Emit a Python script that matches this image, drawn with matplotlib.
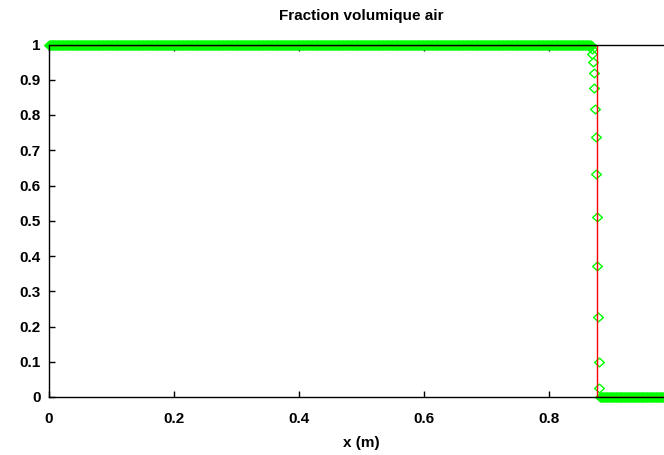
import numpy as np
import matplotlib
matplotlib.use("Agg")
import matplotlib.pyplot as plt
from matplotlib.path import Path

# ---- data ----
# exact solution (step)
exact_x = [0.0, 0.8773, 0.8773, 1.0]
exact_y = [1.0, 1.0, 0.0, 0.0]

# numerical solution: cell-centred mesh with dx = 0.001
dx = 0.001
upper_plateau_end = 0.8645        # last cell at value 1
lower_plateau_start = 0.8815      # first cell at value 0
# transition cells
trans_x = [0.8655, 0.8665, 0.8675, 0.8685, 0.8695, 0.8705, 0.8715, 0.8725,
           0.8735, 0.8745, 0.8755, 0.8765, 0.8775, 0.8785, 0.8795, 0.8805]
trans_y = [0.999, 0.998, 0.995, 0.988, 0.974, 0.950, 0.920, 0.876,
           0.817, 0.737, 0.634, 0.510, 0.371, 0.226, 0.100, 0.025]

x_ticks = [0, 0.2, 0.4, 0.6, 0.8, 1]
x_tick_labels = ["0", "0.2", "0.4", "0.6", "0.8", ""]
y_ticks = [0, 0.1, 0.2, 0.3, 0.4, 0.5, 0.6, 0.7, 0.8, 0.9, 1]
y_tick_labels = ["0", "0.1", "0.2", "0.3", "0.4", "0.5", "0.6", "0.7", "0.8", "0.9", "1"]

title = "Fraction volumique air"
xlabel = "x (m)"

# ---- build numerical series ----
up_x = np.arange(0.0, upper_plateau_end + dx / 2, dx)
lo_x = np.arange(lower_plateau_start, 1.0 + dx / 2, dx)
num_x = np.concatenate([up_x, trans_x, lo_x])
num_y = np.concatenate([np.ones_like(up_x), trans_y, np.zeros_like(lo_x)])

plt.rcParams["font.family"] = ["Liberation Sans", "DejaVu Sans"]
plt.rcParams["font.weight"] = "bold"

FS = 11

fig = plt.figure(figsize=(6.64, 4.55), dpi=100)
W, H = 664, 455
x0px, x1px = 49, 674
y0px, y1px = 397, 44.5
ax = fig.add_axes([x0px / W, 1 - y0px / H, (x1px - x0px) / W, (y0px - y1px) / H])

diamond = Path([(-1, 0), (0, 0.9), (1, 0), (0, -0.9), (-1, 0)],
               [Path.MOVETO, Path.LINETO, Path.LINETO, Path.LINETO, Path.CLOSEPOLY])

ax.plot(num_x, num_y, linestyle="none", marker=diamond, markersize=7.0,
        markerfacecolor="none", markeredgecolor="#00ff00", markeredgewidth=1.0,
        clip_on=False, zorder=2)
ax.plot(exact_x, exact_y, color="#ff0000", linewidth=1.0, zorder=2.2)

ax.set_xlim(0, 1)
ax.set_ylim(0, 1)
ax.set_xticks(x_ticks)
ax.set_xticklabels(x_tick_labels, fontsize=FS, fontweight="bold")
ax.set_yticks(y_ticks)
ax.set_yticklabels(y_tick_labels, fontsize=FS, fontweight="bold")
ax.tick_params(direction="in", length=4, width=1, top=True, right=True,
               pad=6, colors="black")
ax.tick_params(axis="x", pad=11)
for s in ax.spines.values():
    s.set_linewidth(1.0)
    s.set_color("black")
    s.set_zorder(3)

ax.set_xlabel(xlabel, fontsize=FS, fontweight="bold", labelpad=7)
fig.text((x0px + x1px) / 2 / W, 1 - 16 / H, title, ha="center", va="center",
         fontsize=FS, fontweight="bold")

fig.savefig("out.png", dpi=100)
